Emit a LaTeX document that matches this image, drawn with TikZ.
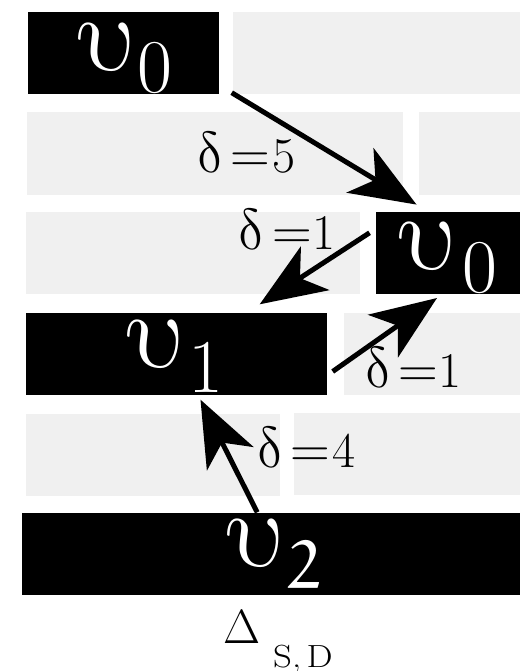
\RequirePackage{fix-cm}
\documentclass[tikz,border=0pt]{standalone}
\usetikzlibrary{arrows.meta}
\definecolor{gry}{RGB}{240,240,240}
\font\eulS=eurm10 at 68pt
\newcommand\slnode[4]{\begin{scope}[shift={#2}]\node[#3, xslant=-0.25] (#1) at (0,0) {#4};\end{scope}}
\newcommand\ugly{\makebox[34pt]{$\upsilon$}}
\newcommand\sbx[1]{\makebox[24pt]{#1}}
\tikzset{
  blk/.style={fill=black, inner sep=0pt, minimum height=82pt},
  gbox/.style={fill=gry},
  ugl/.style={inner sep=0pt, anchor=base, text=white, font=\fontsize{108}{120}\selectfont},
  sgl/.style={inner sep=0pt, anchor=base, text=white, font=\fontsize{76}{80}\selectfont},
  dgl/.style={inner sep=0pt, anchor=base west, font=\fontsize{58}{60}\selectfont},
  eqn/.style={inner sep=0pt, anchor=base west, font=\fontsize{55}{60}\selectfont},
  arr/.style={line width=5pt, -{Stealth[length=66pt,width=52pt,inset=18pt]}},
}
\newcommand\dig[1]{{\fontsize{50}{60}\selectfont #1}}
\begin{document}
\begin{tikzpicture}[x=1pt,y=-1pt]
\useasboundingbox (0,0) rectangle (520,671);
% grey boxes
\fill[gbox] (232.5,12) rectangle (520,94);
\fill[gbox] (26.5,112.5) rectangle (403,194.5);
\fill[gbox] (419,112.5) rectangle (520,194.5);
\fill[gbox] (25.5,211.5) rectangle (360,293.5);
\fill[gbox] (343.5,312.5) rectangle (520,394.5);
\fill[gbox] (25.5,413.5) rectangle (280,495.5);
\fill[gbox] (293.5,412.5) rectangle (520,495);
% black boxes
\node[blk, minimum width=191pt] (v0a) at (123,53.5) {};
\node[blk, minimum width=144.5pt] (v0b) at (448,252.8) {};
\node[blk, minimum width=301pt] (v1) at (176,353.5) {};
\node[blk, minimum width=498pt] (v2) at (271.2,553.5) {};
% upsilons and subscripts
\slnode{u0a}{(113.5,71)}{ugl}{\ugly}
\node[sgl] (s0a) at (155,93) {\sbx{0}};
\slnode{u0b}{(435,269)}{ugl}{\ugly}
\node[sgl] (s0b) at (480,292) {\sbx{0}};
\slnode{u1}{(162.5,367)}{ugl}{\ugly}
\node[sgl] (s1) at (206,392) {\sbx{1}};
\slnode{u2}{(263,566)}{ugl}{\ugly}
\node[sgl, font=\eulS] (s2) at (304,588) {\sbx{2}};
% arrows
\draw[arr] ([shift={(13,-2)}]v0a.south east) -- ([shift={(41,-7)}]v0b.north west);
\draw[arr] ([shift={(-6,-20)}]v0b.west) -- ([shift={(-67,-8)}]v1.north east);
\draw[arr] ([shift={(6,18)}]v1.east) -- ([shift={(-11,4)}]v0b.south);
\draw[arr] ([shift={(-14,0)}]v2.north) -- ([shift={(24.5,5)}]v1.south);
% labels
\slnode{d1}{(200,172)}{dgl}{$\delta$}
\node[eqn] (e1) at (230,172) {$=$\kern3pt\dig{5}};
\slnode{d2}{(241,249)}{dgl}{$\delta$}
\node[eqn] (e2) at (272,249) {$=$\kern1pt\dig{1}};
\slnode{d3}{(368,387)}{dgl}{$\delta$}
\node[eqn] (e3) at (398,387) {$=$\kern1pt\dig{1}};
\slnode{d4}{(260,467)}{dgl}{$\delta$}
\node[eqn] (e4) at (290,467) {$=$\kern3pt\dig{4}};
% caption
\node[inner sep=0pt, anchor=base west, font=\fontsize{48}{50}\selectfont] (D) at (223,643) {$\Delta$};
\node[inner sep=0pt, anchor=base west, xscale=1.15, font=\fontsize{32}{36}\selectfont] (Dsub) at (273,667) {S,\kern4.6pt D};
\end{tikzpicture}
\end{document}
